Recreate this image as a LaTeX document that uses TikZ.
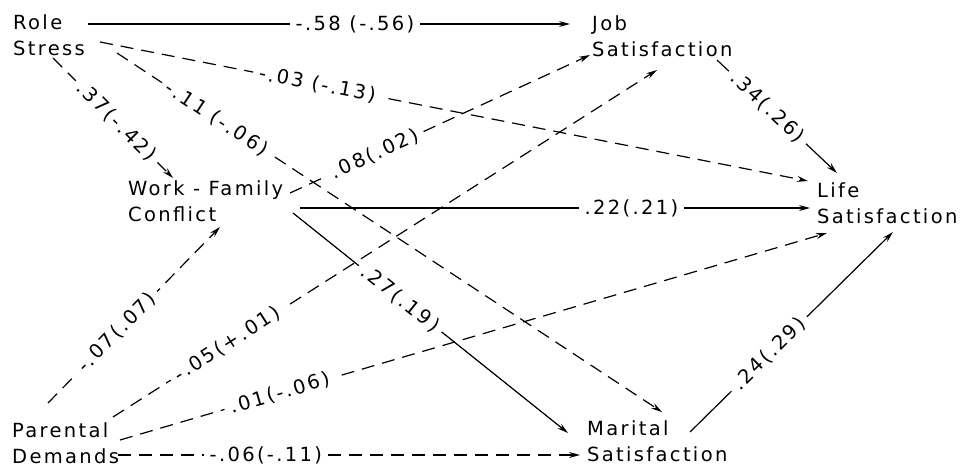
\documentclass[tikz,border=0pt]{standalone}
\usepackage{fontspec}
\setmainfont[LetterSpace=12]{DejaVu Sans}
\usetikzlibrary{arrows.meta}
\begin{document}
\begin{tikzpicture}[x=1pt,y=-1pt,
  font=\fontsize{19.5}{26}\selectfont,
  var/.style={anchor=west, align=left, inner sep=0pt},
  lbl/.style={sloped, fill=white, inner xsep=6pt, inner ysep=3pt},
  link/.style={line width=1.2pt, -{Stealth[length=11pt,width=6pt]}},
  dlink/.style={link, dash pattern=on 13pt off 8pt}]
\useasboundingbox (0,0) rectangle (963,471);
\fill[white] (0,0) rectangle (963,471);
% variables
\node[var] (rs)  at (13,35)   {Role\\Stress};
\node[var] (js)  at (592,36)  {Job\\Satisfaction};
\node[var] (wfc) at (128,201) {Work - Family\\Conflict};
\node[var] (ls)  at (817,203) {Life\\Satisfaction};
\node[var] (pd)  at (12,443)  {Parental\\Demands};
\node[var] (ms)  at (587,441) {Marital\\Satisfaction};
% paths from Role Stress
\draw[link]  ([shift={(75,-11)}]rs.west) -- node[lbl,pos=0.554]{-.58 (-.56)} ([shift={(-22,-12)}]js.west);
\draw[dlink] ([shift={(87,7)}]rs.west)   -- node[lbl,pos=0.307]{-.03 (-.13)} ([shift={(-9,-22)}]ls.west);
\draw[dlink] ([shift={(104,18)}]rs.west) -- node[lbl,pos=0.183]{-.11 (-.06)} ([shift={(75,-29)}]ms.west);
\draw[dlink] ([shift={(40,23)}]rs.west)  -- node[lbl,pos=0.53]{.37(-.42)} ([shift={(45,-23)}]wfc.west);
% paths from Work-Family Conflict
\draw[dlink] ([shift={(162,-8)}]wfc.west) -- node[lbl,pos=0.283]{.08(.02)} ([shift={(-2,19)}]js.west);
\draw[link]  ([shift={(172,7)}]wfc.west)  -- node[lbl,pos=0.65]{.22(.21)} ([shift={(-7,5)}]ls.west);
\draw[link]  ([shift={(165,12)}]wfc.west) -- node[lbl,pos=0.39]{.27(.19)} ([shift={(-19,-8)}]ms.west);
% paths from Parental Demands
\draw[dlink] ([shift={(36,-40)}]pd.west)  -- node[lbl,pos=0.40]{-.07(.07)} ([shift={(92,26)}]wfc.west);
\draw[dlink] ([shift={(101,-26)}]pd.west) -- node[lbl,pos=0.21]{-.05(+.01)} ([shift={(65,34)}]js.west);
\draw[dlink] ([shift={(108,-3)}]pd.west)  -- node[lbl,pos=0.226]{.01(-.06)} ([shift={(10,30)}]ls.west);
\draw[dlink] ([shift={(106,12)}]pd.west)  -- node[lbl,pos=0.32]{-.06(-.11)} ([shift={(-7,14)}]ms.west);
% paths to Life Satisfaction
\draw[link]  ([shift={(125,24)}]js.west)  -- node[lbl,pos=0.42]{.34(.26)} ([shift={(20,-30)}]ls.west);
\draw[link]  ([shift={(103,-9)}]ms.west)  -- node[lbl,pos=0.39]{.24(.29)} ([shift={(76,29)}]ls.west);
\end{tikzpicture}
\end{document}
